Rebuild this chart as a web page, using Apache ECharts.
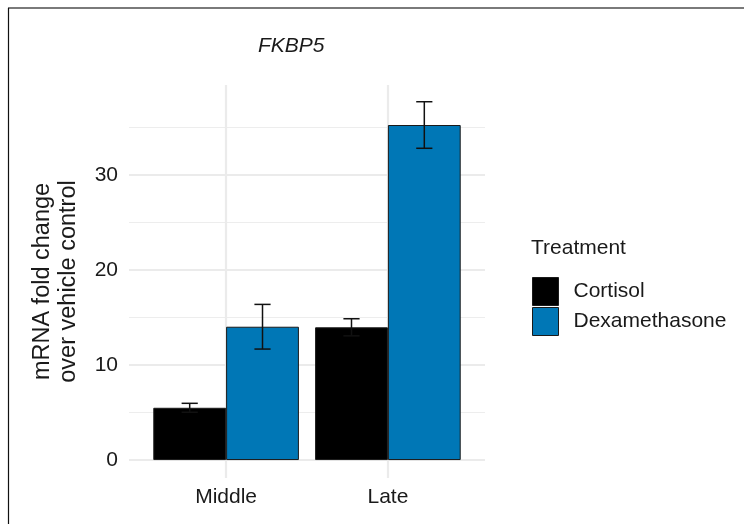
<!DOCTYPE html>
<html>
<head>
<meta charset="utf-8">
<script src="https://cdn.jsdelivr.net/npm/echarts@6/dist/echarts.min.js"></script>
<style>html,body{margin:0;padding:0;background:#fff}#c{width:744px;height:524px}</style>
</head>
<body>
<div id="c"></div>
<script>
const categories = ['Middle', 'Late'];
const seriesNames = ['Cortisol', 'Dexamethasone'];
const cortisol = [5.5, 13.97];
const cortisolErr = [0.47, 0.9];
const dexamethasone = [14.03, 35.26];
const dexamethasoneErr = [2.35, 2.45];
const yTicks = [0, 10, 20, 30];
const yMinorTicks = [5, 15, 25, 35];

const FONT = '"Liberation Sans", Arial, sans-serif';
const TXT = '#1a1a1a';
const BLUE = '#0077b6';
const YMIN = -1.89, YMAX = 39.47;

function errData(means, errs, side) {
  return means.map((m, i) => [i, m, errs[i], side]);
}

function renderErr(params, api) {
  const idx = api.value(0), m = api.value(1), e = api.value(2), side = api.value(3);
  const band = api.size([1, 0])[0];
  const cx = api.coord([idx, 0])[0] + side * 0.225 * band;
  const hw = 0.05 * band;
  const yt = api.coord([idx, m + e])[1];
  const yb = api.coord([idx, m - e])[1];
  const st = { stroke: '#111111', lineWidth: 1.5 };
  return {
    type: 'group',
    children: [
      { type: 'line', shape: { x1: cx, y1: yt, x2: cx, y2: yb }, style: st },
      { type: 'line', shape: { x1: cx - hw, y1: yt, x2: cx + hw, y2: yt }, style: st },
      { type: 'line', shape: { x1: cx - hw, y1: yb, x2: cx + hw, y2: yb }, style: st }
    ]
  };
}

const chart = echarts.init(document.getElementById('c'), null, { renderer: 'canvas' });
chart.setOption({
  animation: false,
  backgroundColor: '#ffffff',
  textStyle: { fontFamily: FONT },
  title: [
    { text: 'FKBP5', left: 258, top: 36, padding: 0,
      textStyle: { fontFamily: FONT, fontSize: 21, fontStyle: 'italic', fontWeight: 'normal', color: TXT } },
    { text: 'Treatment', left: 531, top: 238, padding: 0,
      textStyle: { fontFamily: FONT, fontSize: 21, fontWeight: 'normal', color: TXT } }
  ],
  legend: {
    data: seriesNames,
    orient: 'vertical',
    left: 532, top: 277, padding: 0,
    itemWidth: 26, itemHeight: 28, itemGap: 1,
    icon: 'rect',
    textStyle: { fontFamily: FONT, fontSize: 21, color: TXT, padding: [0, 0, 0, 10] },
    itemStyle: { borderColor: '#1a1a1a', borderWidth: 1 }
  },
  grid: [
    { left: 129, top: 85, width: 356, height: 393 },
    { left: 145.2, top: 85, width: 323.6, height: 393 }
  ],
  xAxis: [
    { type: 'value', gridIndex: 0, min: 0, max: 1, show: false },
    { type: 'category', gridIndex: 1, data: categories,
      axisLine: { show: false }, axisTick: { show: false }, splitLine: { show: false },
      axisLabel: { fontFamily: FONT, fontSize: 21, color: TXT, margin: 9 } }
  ],
  yAxis: [
    { type: 'value', gridIndex: 0, min: YMIN, max: YMAX,
      name: 'mRNA fold change\nover vehicle control', nameLocation: 'middle', nameGap: 47,
      nameTextStyle: { fontFamily: FONT, fontSize: 23.5, color: TXT, lineHeight: 26 },
      axisLine: { show: false }, axisTick: { show: false }, splitLine: { show: false },
      axisLabel: { customValues: yTicks, fontFamily: FONT, fontSize: 21, color: TXT, margin: 11 } },
    { type: 'value', gridIndex: 1, min: YMIN, max: YMAX, show: false, splitLine: { show: false } }
  ],
  graphic: [
    { type: 'line', shape: { x1: 8, y1: 8, x2: 744, y2: 8 }, style: { stroke: '#7a7a7a', lineWidth: 2 } },
    { type: 'line', shape: { x1: 8.5, y1: 8, x2: 8.5, y2: 524 }, style: { stroke: '#111', lineWidth: 1.2 } }
  ],
  series: [
    { type: 'line', xAxisIndex: 0, yAxisIndex: 0, z: 0, data: [[0.5, -100]], showSymbol: false,
      lineStyle: { opacity: 0 }, silent: true,
      markLine: { z: 0, silent: true, symbol: 'none', label: { show: false }, animation: false,
        data: yTicks.map(v => ({ yAxis: v, lineStyle: { color: '#ebebeb', width: 2.2, type: 'solid' } }))
          .concat(yMinorTicks.map(v => ({ yAxis: v, lineStyle: { color: '#ededed', width: 1.1, type: 'solid' } }))) } },
    { type: 'line', xAxisIndex: 1, yAxisIndex: 1, z: 0, data: [], showSymbol: false,
      lineStyle: { opacity: 0 }, silent: true,
      markLine: { z: 0, silent: true, symbol: 'none', label: { show: false }, animation: false,
        data: categories.map(c => ({ xAxis: c, lineStyle: { color: '#ebebeb', width: 2.2, type: 'solid' } })) } },
    { name: 'Cortisol', type: 'bar', xAxisIndex: 1, yAxisIndex: 1, z: 2, data: cortisol,
      barCategoryGap: '10%', barGap: '0%',
      itemStyle: { color: '#000000', borderColor: '#1a1a1a', borderWidth: 1 } },
    { name: 'Dexamethasone', type: 'bar', xAxisIndex: 1, yAxisIndex: 1, z: 2, data: dexamethasone,
      barCategoryGap: '10%', barGap: '0%',
      itemStyle: { color: BLUE, borderColor: '#1a1a1a', borderWidth: 1 } },
    { type: 'custom', xAxisIndex: 1, yAxisIndex: 1, z: 3, silent: true,
      renderItem: renderErr, data: errData(cortisol, cortisolErr, -1) },
    { type: 'custom', xAxisIndex: 1, yAxisIndex: 1, z: 3, silent: true,
      renderItem: renderErr, data: errData(dexamethasone, dexamethasoneErr, 1) }
  ]
});
</script>
</body>
</html>
